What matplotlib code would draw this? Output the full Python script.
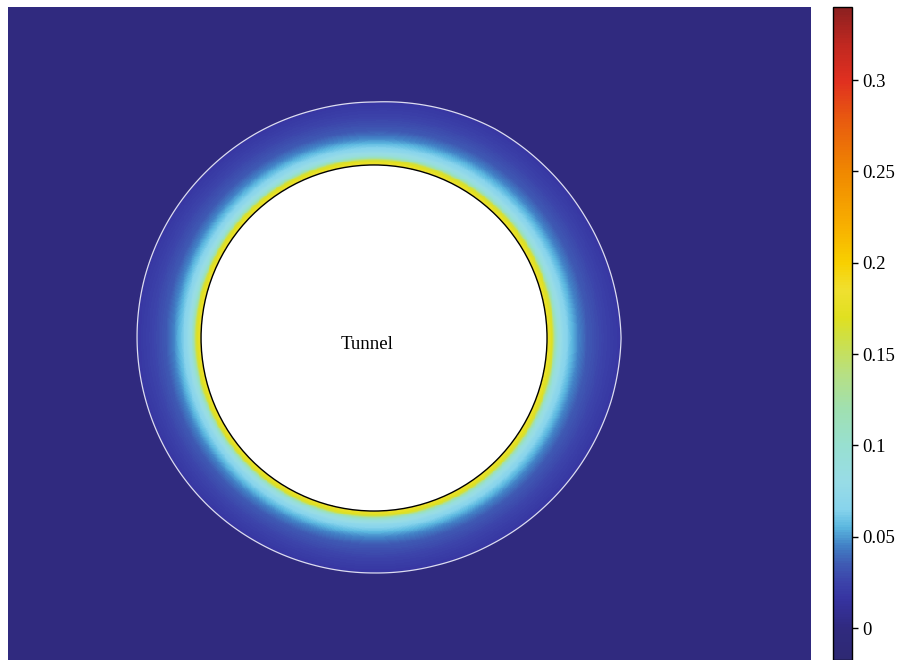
import numpy as np
import matplotlib
matplotlib.use("Agg")
import matplotlib.pyplot as plt
from matplotlib.colors import LinearSegmentedColormap
from matplotlib.patches import Circle

# geometry (tunnel radius = 1)
x_lim = (-2.116, 2.526)
y_lim = (-1.861, 1.913)

# plastic zone boundary radius vs angle (deg, ccw from +x)
zone_ang = [0, 15, 30, 45, 60, 75, 90, 105, 120, 135, 150, 165, 180,
            195, 210, 225, 240, 255, 270, 285, 300, 315, 330, 345, 360]
zone_rad = [1.428, 1.418, 1.407, 1.400, 1.396, 1.380, 1.364, 1.362, 1.365, 1.366, 1.369, 1.371, 1.370,
            1.368, 1.366, 1.364, 1.360, 1.358, 1.358, 1.362, 1.372, 1.386, 1.402, 1.418, 1.428]

# strain profile across the zone (0 = tunnel wall, 1 = zone boundary)
prof_t = [0.0, 0.04, 0.08, 0.11, 0.15, 0.23, 0.32, 0.42, 0.55, 0.75, 1.0]
prof_v = [0.182, 0.176, 0.160, 0.120, 0.090, 0.070, 0.058, 0.046, 0.034, 0.025, 0.017]

# colour scale
vmin, vmax = -0.0175, 0.34
cb_ticks = [0, 0.05, 0.1, 0.15, 0.2, 0.25, 0.3]
cb_labels = ["0", "0.05", "0.1", "0.15", "0.2", "0.25", "0.3"]
cmap_vals = [-0.0175, 0.0, 0.015, 0.025, 0.035, 0.045, 0.055, 0.065, 0.08, 0.10, 0.12,
             0.14, 0.16, 0.17, 0.185, 0.20, 0.22, 0.25, 0.28, 0.30, 0.32, 0.34]
cmap_cols = ["#2e2973", "#302a80", "#3633a0", "#3c44aa", "#3f5cb4", "#4282c6", "#5cb8e0", "#88d4ec",
             "#98dce6", "#98e0d0", "#a0e0b0", "#b8e080", "#d0e040", "#e0e020", "#f0e030",
             "#f8d000", "#f8b000", "#f08800", "#e85810", "#e03020", "#c02820", "#8c2020"]

pos = [(v - vmin) / (vmax - vmin) for v in cmap_vals]
cmap = LinearSegmentedColormap.from_list("zone", list(zip(pos, cmap_cols)))
cmap.set_bad("white")

xs = np.linspace(x_lim[0], x_lim[1], 900)
ys = np.linspace(y_lim[0], y_lim[1], 730)
X, Y = np.meshgrid(xs, ys)
r = np.hypot(X, Y)
th = np.degrees(np.arctan2(Y, X)) % 360
r_out = np.interp(th, zone_ang, zone_rad)
t = (r - 1.0) / (r_out - 1.0)
Z = np.where(t <= 1.0, np.interp(t, prof_t, prof_v), 0.0)
Z = np.ma.masked_where(r < 1.0, Z)

fig = plt.figure(figsize=(8.98, 6.6), dpi=100)
ax = fig.add_axes([8 / 898, 0, 803 / 898, 653 / 660])
im = ax.pcolormesh(X, Y, Z, cmap=cmap, vmin=vmin, vmax=vmax, shading="auto", rasterized=True)
ax.contour(X, Y, t, levels=[1.0], colors="#dcdcf0", linewidths=0.9)
ax.add_patch(Circle((0, 0), 1.0, facecolor="none", edgecolor="black", lw=1.0))
ax.text(-0.04, -0.035, "Tunnel", ha="center", va="center",
        fontsize=13.5, family="Liberation Serif")
ax.set_xlim(x_lim)
ax.set_ylim(y_lim)
ax.set_aspect("auto")
ax.axis("off")

cax = fig.add_axes([833 / 898, 0, 19 / 898, 653 / 660])
cb = fig.colorbar(im, cax=cax)
cb.set_ticks(cb_ticks)
cb.set_ticklabels(cb_labels)
cb.outline.set_linewidth(1.0)
cax.tick_params(direction="out", length=4, width=1, labelsize=13.5)
for lab in cax.get_yticklabels():
    lab.set_family("Liberation Serif")

fig.savefig("out.png", dpi=100)
